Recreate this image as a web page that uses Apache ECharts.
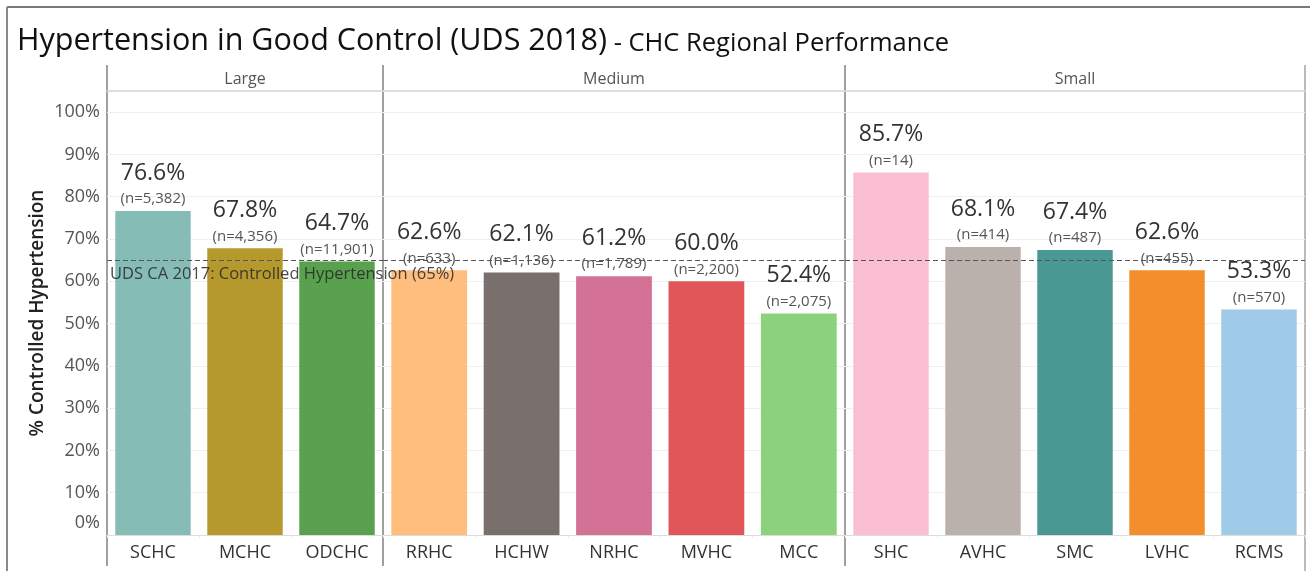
<!DOCTYPE html>
<html>
<head>
<meta charset="utf-8">
<script src="https://cdn.jsdelivr.net/npm/echarts@6/dist/echarts.min.js"></script>
<style>
  html, body { margin: 0; padding: 0; background: #fff; }
  #chart { width: 1310px; height: 571px; }
</style>
</head>
<body>
<div id="chart"></div>
<script>
// ---- data ----
const groups = ['Large', 'Medium', 'Small'];
const largeCats = ['SCHC', 'MCHC', 'ODCHC'];
const mediumCats = ['RRHC', 'HCHW', 'NRHC', 'MVHC', 'MCC'];
const smallCats = ['SHC', 'AVHC', 'SMC', 'LVHC', 'RCMS'];
const largeValues = [76.6, 67.8, 64.7];
const mediumValues = [62.6, 62.1, 61.2, 60.0, 52.4];
const smallValues = [85.7, 68.1, 67.4, 62.6, 53.3];
const largeN = [5382, 4356, 11901];
const mediumN = [633, 1136, 1789, 2200, 2075];
const smallN = [14, 414, 487, 455, 570];
const largeColors = ['#86bcb6', '#b6992d', '#59a14f'];
const mediumColors = ['#ffbe7d', '#79706e', '#d37295', '#e15759', '#8cd17d'];
const smallColors = ['#fabfd2', '#bab0ac', '#499894', '#f28e2b', '#a0cbe8'];
const benchmark = 65;
const benchmarkLabel = 'UDS CA 2017: Controlled Hypertension (65%)';
const yAxisTitle = '% Controlled Hypertension';
const titleMain = 'Hypertension in Good Control (UDS 2018)';
const titleSub = ' - CHC Regional Performance';

const panels = [
  { name: groups[0], cats: largeCats, vals: largeValues, ns: largeN, colors: largeColors },
  { name: groups[1], cats: mediumCats, vals: mediumValues, ns: mediumN, colors: mediumColors },
  { name: groups[2], cats: smallCats, vals: smallValues, ns: smallN, colors: smallColors }
];

// ---- layout ----
const FONT = '"Open Sans", "Noto Sans", sans-serif';
const gridTop = 91, gridBottomY = 535;
const panelX = [107, 383, 845, 1305];

const chart = echarts.init(document.getElementById('chart'), null, { renderer: 'canvas' });

const grid = [], xAxis = [], yAxis = [], series = [];
panels.forEach((p, i) => {
  grid.push({ left: panelX[i], top: gridTop, width: panelX[i + 1] - panelX[i], height: gridBottomY - gridTop, containLabel: false });
  xAxis.push({
    type: 'category', gridIndex: i, data: p.cats, position: 'bottom',
    axisLine: { show: true, lineStyle: { color: '#dcdcdc', width: 1 } },
    axisTick: { show: true, length: 3, lineStyle: { color: '#ececec' } },
    axisLabel: { fontFamily: FONT, fontSize: 18, color: '#333', margin: 9 }
  });
  xAxis.push({
    type: 'category', gridIndex: i, data: [p.name], position: 'top',
    axisLine: { show: true, lineStyle: { color: '#d4d4d4', width: 1.5 } },
    axisTick: { show: false },
    axisLabel: { fontFamily: FONT, fontSize: 16, color: '#555', margin: 4 }
  });
  yAxis.push({
    type: 'value', gridIndex: i, min: 0, max: 105, interval: 10,
    name: i === 0 ? yAxisTitle : '',
    nameLocation: 'middle', nameGap: 60,
    nameTextStyle: { fontFamily: FONT, fontSize: 19, fontWeight: 600, color: '#222' },
    axisLine: { show: false }, axisTick: { show: false },
    axisLabel: {
      show: i === 0, margin: 7,
      formatter: v => v > 100 ? '' : (v === 0 ? '{z|0%}' : '{t|' + v + '%}'),
      rich: {
        t: { fontFamily: FONT, fontSize: 18, color: '#555' },
        z: { fontFamily: FONT, fontSize: 18, color: '#555', padding: [0, 0, 24, 0] }
      }
    },
    splitLine: { show: true, lineStyle: { color: '#f0f0f0', width: 1 } }
  });
  series.push({
    type: 'bar', xAxisIndex: i * 2, yAxisIndex: i, barWidth: '82%',
    data: p.vals.map((v, k) => ({ value: v, itemStyle: { color: p.colors[k] } })),
    label: {
      show: true, position: 'top', distance: 2,
      formatter: prm => '{v|' + prm.value.toFixed(1) + '%}\n{n|(n=' + p.ns[prm.dataIndex].toLocaleString('en-US') + ')}',
      rich: {
        v: { fontFamily: FONT, fontSize: 23, color: '#333', lineHeight: 32, align: 'center' },
        n: { fontFamily: FONT, fontSize: 15, color: '#555', lineHeight: 20, align: 'center' }
      }
    },
    markLine: {
      silent: true, symbol: 'none', z: 10,
      lineStyle: { color: '#555', type: [5, 3], width: 1 },
      label: i === 0 ? {
        show: true, position: 'insideStartBottom', distance: [3, 6],
        formatter: benchmarkLabel,
        fontFamily: FONT, fontSize: 16.5, color: 'rgba(40,40,40,0.85)'
      } : { show: false },
      data: [{ yAxis: benchmark }]
    }
  });
});

const lineColor = '#a0a0a0';
const graphic = [
  { type: 'line', shape: { x1: 7, y1: 7, x2: 1310, y2: 7 }, style: { stroke: '#7a7a7a', lineWidth: 2 } },
  { type: 'line', shape: { x1: 7, y1: 7, x2: 7, y2: 571 }, style: { stroke: '#8a8a8a', lineWidth: 2 } },
  { type: 'line', shape: { x1: panelX[0], y1: 65, x2: panelX[0], y2: 566 }, style: { stroke: lineColor, lineWidth: 2 } },
  { type: 'line', shape: { x1: panelX[1], y1: 65, x2: panelX[1], y2: 566 }, style: { stroke: lineColor, lineWidth: 2 } },
  { type: 'line', shape: { x1: panelX[2], y1: 65, x2: panelX[2], y2: 566 }, style: { stroke: lineColor, lineWidth: 2 } },
  { type: 'line', shape: { x1: panelX[3], y1: 65, x2: panelX[3], y2: 571 }, style: { stroke: '#bbbbbb', lineWidth: 2 } }
];

chart.setOption({
  animation: false,
  backgroundColor: '#fff',
  title: {
    left: 17, top: 17, padding: 0,
    text: '{a|' + titleMain + '}{b|' + titleSub + '}',
    textStyle: {
      fontWeight: 'normal',
      rich: {
        a: { fontFamily: FONT, fontSize: 30.5, fontWeight: 'normal', color: '#111', verticalAlign: 'bottom', lineHeight: 40 },
        b: { fontFamily: FONT, fontSize: 25.5, fontWeight: 'normal', color: '#111', verticalAlign: 'bottom', lineHeight: 37 }
      }
    }
  },
  grid, xAxis, yAxis, series, graphic
});
</script>
</body>
</html>
